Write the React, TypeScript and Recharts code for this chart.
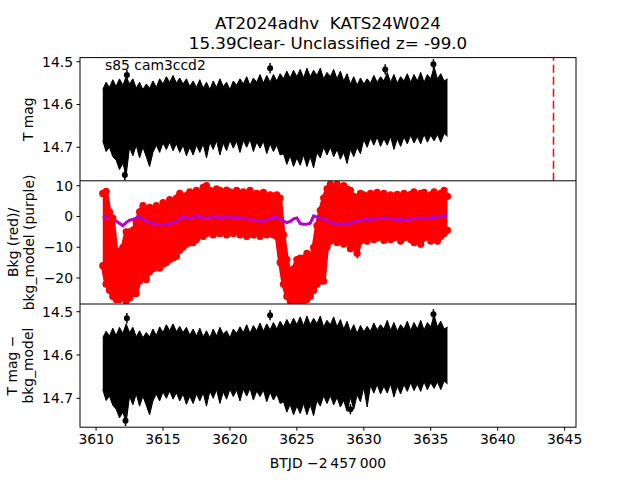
import React from 'react';
import { ComposedChart, Area, Line, Scatter, XAxis, YAxis, ReferenceLine } from 'recharts';

// sample grid (BTJD - 2457000), one column of the light curve every 0.25 d
const times = [
  3610.5, 3610.75, 3611, 3611.25, 3611.5, 3611.75, 3612, 3612.25, 3612.5, 3612.75,
  3613, 3613.25, 3613.5, 3613.75, 3614, 3614.25, 3614.5, 3614.75, 3615, 3615.25,
  3615.5, 3615.75, 3616, 3616.25, 3616.5, 3616.75, 3617, 3617.25, 3617.5, 3617.75,
  3618, 3618.25, 3618.5, 3618.75, 3619, 3619.25, 3619.5, 3619.75, 3620, 3620.25,
  3620.5, 3620.75, 3621, 3621.25, 3621.5, 3621.75, 3622, 3622.25, 3622.5, 3622.75,
  3623, 3623.25, 3623.5, 3623.75, 3624, 3624.25, 3624.5, 3624.75, 3625, 3625.25,
  3625.5, 3625.75, 3626, 3626.25, 3626.5, 3626.75, 3627, 3627.25, 3627.5, 3627.75,
  3628, 3628.25, 3628.5, 3628.75, 3629, 3629.25, 3629.5, 3629.75, 3630, 3630.25,
  3630.5, 3630.75, 3631, 3631.25, 3631.5, 3631.75, 3632, 3632.25, 3632.5, 3632.75,
  3633, 3633.25, 3633.5, 3633.75, 3634, 3634.25, 3634.5, 3634.75, 3635, 3635.25,
  3635.5, 3635.75, 3636, 3636.25,
];

// T mag: bright edge / faint edge of the error-bar band
const topHi = [
  14.565, 14.548, 14.560, 14.542, 14.558, 14.540, 14.555, 14.535, 14.552, 14.540,
  14.562, 14.548, 14.565, 14.552, 14.562, 14.545, 14.560, 14.540, 14.552, 14.535,
  14.548, 14.532, 14.550, 14.538, 14.552, 14.540, 14.558, 14.545, 14.560, 14.542,
  14.562, 14.548, 14.565, 14.545, 14.560, 14.540, 14.558, 14.548, 14.565, 14.545,
  14.555, 14.540, 14.552, 14.535, 14.555, 14.538, 14.548, 14.530, 14.550, 14.532,
  14.548, 14.530, 14.545, 14.528, 14.540, 14.522, 14.538, 14.520, 14.535, 14.518,
  14.538, 14.515, 14.535, 14.520, 14.532, 14.515, 14.540, 14.525, 14.535, 14.518,
  14.540, 14.522, 14.545, 14.528, 14.552, 14.535, 14.555, 14.538, 14.552, 14.540,
  14.550, 14.532, 14.548, 14.535, 14.545, 14.525, 14.548, 14.530, 14.550, 14.535,
  14.545, 14.528, 14.548, 14.530, 14.545, 14.525, 14.548, 14.530, 14.540, 14.512,
  14.540, 14.528, 14.545, 14.540,
];
const topLo = [
  14.685, 14.710, 14.700, 14.722, 14.730, 14.752, 14.738, 14.765, 14.700, 14.720,
  14.695, 14.725, 14.700, 14.722, 14.745, 14.712, 14.695, 14.712, 14.690, 14.705,
  14.688, 14.708, 14.692, 14.712, 14.695, 14.720, 14.700, 14.718, 14.695, 14.712,
  14.692, 14.725, 14.688, 14.705, 14.685, 14.718, 14.690, 14.708, 14.684, 14.702,
  14.686, 14.712, 14.684, 14.700, 14.682, 14.710, 14.688, 14.702, 14.686, 14.715,
  14.692, 14.710, 14.695, 14.718, 14.715, 14.740, 14.720, 14.745, 14.725, 14.742,
  14.718, 14.745, 14.722, 14.748, 14.712, 14.725, 14.700, 14.718, 14.700, 14.722,
  14.705, 14.728, 14.712, 14.738, 14.705, 14.722, 14.700, 14.715, 14.682, 14.700,
  14.678, 14.695, 14.676, 14.698, 14.680, 14.695, 14.675, 14.705, 14.680, 14.698,
  14.676, 14.692, 14.672, 14.690, 14.675, 14.692, 14.670, 14.688, 14.672, 14.685,
  14.670, 14.688, 14.668, 14.675,
];

// background (red points): upper / lower edge of the cloud
const bkgHi = [
  7.5, 8.2, 1.5, -0.5, -11, -11.5, -10, -5, -5, -4.5,
  -2, 1.5, 3.5, 2.5, 3, 2, 3.5, 2.5, 4.5, 3.5,
  5.5, 4.8, 6, 7.5, 6.5, 6.8, 8, 7.5, 8.5, 7.5,
  9.5, 10, 8.5, 8.2, 9, 8.5, 7.5, 8.6, 8, 7,
  8.5, 7.5, 8, 7.2, 8.5, 7, 7.5, 6.8, 7.8, 6.5,
  7, 6.5, 7, 6, -6, -14, -19, -17, -14, -13.5,
  -13.5, -12, -14, -10, -3, 2, 6, 9, 10.5, 9.5,
  10.5, 9, 10, 9, 8.5, 6.5, 6, 7.5, 7, 6.5,
  7.5, 6.5, 7.8, 6.8, 7.5, 6.5, 7, 6.5, 7.2, 6.5,
  7.5, 6.8, 7.2, 8, 6.8, 7.5, 7.8, 6.5, 7, 8,
  6.5, 7.5, 8.5, 6.5,
];
const bkgLo = [
  -16, -22, -24, -26, -27, -27, -26, -27.5, -26.5, -25,
  -25, -21, -19.5, -20.5, -18, -17, -16.5, -16.8, -15.5, -15,
  -14, -13.5, -13, -11, -10, -9, -8.5, -8.5, -7.5, -6,
  -6.5, -5.5, -5, -6, -5, -5.5, -4.5, -6, -5, -5.5,
  -4.5, -6, -5, -6.5, -5.5, -6, -5, -6.5, -5.5, -6,
  -5.5, -6, -6.5, -15, -22, -26, -27.5, -27.5, -27.5, -27.5,
  -27.5, -27, -26, -24, -22, -21, -21, -10, -8, -7.5,
  -8.5, -7, -9, -8, -10.5, -9.5, -12, -8, -7.5, -8,
  -6.5, -7.5, -7, -6.5, -7.8, -6.5, -7.5, -7, -6.5, -8,
  -7, -6.5, -7.5, -8.5, -7, -9, -7, -6.5, -8, -7,
  -8, -6.5, -5.5, -4.5,
];
// bkg_model (purple)
const bkgModel = [
  0, -0.3, -0.8, -1.2, -1.5, -2.2, -3, -2, -1.2, -1,
  -0.5, -0.3, -0.8, -1.5, -2, -2.3, -2.5, -2.6, -2.7, -2.6,
  -2.4, -2, -1.6, -0.8, 0, -0.4, -0.8, -0.3, 0.3, -0.2,
  -0.5, -0.6, -0.3, 0, -0.2, -0.5, -0.3, 0, -0.2, -0.5,
  -0.4, -0.6, -0.5, -0.7, -0.8, -1.2, -1.4, -1.6, -1.5, -1,
  -0.5, -0.3, -0.4, -0.8, -1.5, -2, -1.6, -0.8, -0.5, -2.3,
  -2.5, -2.5, -2.2, 0.2, -0.2, -0.6, -0.8, -1.2, -1.8, -2.3,
  -2.5, -2.6, -2.4, -2.5, -2.2, -1.8, -1.5, -1.3, -1.1, -1,
  -0.8, -0.9, -0.7, -0.6, -0.5, -0.5, -0.7, -0.9, -1, -1.1,
  -1, -1.2, -0.9, -0.7, -0.5, -0.6, -0.5, -0.7, -0.4, -0.3,
  -0.2, 0, 0.2, 0.3,
];

// T mag - bkg_model band
const botHi = [
  14.560, 14.545, 14.556, 14.538, 14.555, 14.536, 14.550, 14.528, 14.548, 14.536,
  14.558, 14.544, 14.560, 14.548, 14.558, 14.540, 14.555, 14.535, 14.548, 14.530,
  14.544, 14.528, 14.546, 14.534, 14.548, 14.536, 14.554, 14.540, 14.556, 14.538,
  14.558, 14.544, 14.560, 14.540, 14.556, 14.536, 14.552, 14.544, 14.560, 14.540,
  14.550, 14.535, 14.548, 14.530, 14.550, 14.532, 14.544, 14.526, 14.545, 14.528,
  14.542, 14.525, 14.540, 14.522, 14.535, 14.518, 14.532, 14.515, 14.530, 14.512,
  14.532, 14.510, 14.530, 14.515, 14.528, 14.510, 14.535, 14.520, 14.530, 14.512,
  14.535, 14.518, 14.540, 14.522, 14.546, 14.530, 14.550, 14.532, 14.546, 14.534,
  14.545, 14.526, 14.542, 14.530, 14.540, 14.520, 14.543, 14.525, 14.545, 14.530,
  14.540, 14.522, 14.543, 14.525, 14.540, 14.520, 14.542, 14.525, 14.535, 14.508,
  14.535, 14.522, 14.540, 14.535,
];
const botLo = [
  14.680, 14.705, 14.695, 14.716, 14.725, 14.745, 14.732, 14.755, 14.695, 14.715,
  14.690, 14.718, 14.695, 14.716, 14.738, 14.706, 14.690, 14.706, 14.685, 14.700,
  14.683, 14.702, 14.687, 14.706, 14.690, 14.714, 14.695, 14.712, 14.690, 14.706,
  14.687, 14.718, 14.683, 14.700, 14.680, 14.712, 14.685, 14.702, 14.679, 14.696,
  14.681, 14.706, 14.679, 14.695, 14.677, 14.704, 14.683, 14.696, 14.681, 14.708,
  14.686, 14.704, 14.690, 14.712, 14.708, 14.732, 14.714, 14.738, 14.718, 14.735,
  14.712, 14.738, 14.715, 14.740, 14.705, 14.718, 14.694, 14.712, 14.694, 14.715,
  14.698, 14.720, 14.705, 14.730, 14.698, 14.725, 14.692, 14.708, 14.675, 14.720,
  14.670, 14.688, 14.668, 14.690, 14.672, 14.688, 14.667, 14.697, 14.672, 14.690,
  14.668, 14.684, 14.664, 14.682, 14.667, 14.684, 14.662, 14.680, 14.664, 14.677,
  14.662, 14.680, 14.660, 14.667,
];

// isolated points sticking out of the band (with error bars)
const topPtT = [3612.3, 3623.0, 3631.6, 3635.2, 3612.15];
const topPtM = [14.531, 14.515, 14.518, 14.506, 14.765];
const botPtT = [3612.3, 3623.0, 3635.2, 3612.2, 3629.0];
const botPtM = [14.515, 14.508, 14.506, 14.752, 14.725];
const ptErr = 0.012;

const discoveryT = 3644.17;
const xTicks = [3610, 3615, 3620, 3625, 3630, 3635, 3640, 3645];

const rows = times.map((t, i) => ({
  t,
  top: [topLo[i], topHi[i]],
  bkg: [bkgLo[i], bkgHi[i]],
  model: bkgModel[i],
  bot: [botLo[i], botHi[i]],
}));
const bkgDots = times.flatMap((t, i) => [{ t, v: bkgHi[i] }, { t, v: bkgLo[i] }]);
const topPts = topPtT.map((t, i) => ({ t, m: topPtM[i] }));
const botPts = botPtT.map((t, i) => ({ t, m: botPtM[i] }));

const FONT = 'DejaVu Sans, sans-serif';
const tickStyle = { fill: '#000', fontSize: 13.9, fontFamily: FONT };
const X_DOMAIN = [3608.8, 3645.85];
const PANEL_H = 123.2;
const TOPS = [57.6, 180.8, 304];

const minus = (v: number) => (v < 0 ? '\u2212' + Math.abs(v) : String(v));

const blackDot = (p: any) => <circle cx={p.cx} cy={p.cy} r={3} fill="#000" />;
const redDot = (p: any) => <circle cx={p.cx} cy={p.cy} r={3.6} fill="#ff0000" />;

const layer: React.CSSProperties = { position: 'absolute', left: 0, top: 0 };

function panelMargin(i: number, xAxisH: number) {
  return { top: TOPS[i], right: 64, left: 0, bottom: 480 - TOPS[i] - PANEL_H - xAxisH };
}

// error bars of the isolated points, drawn as reference segments
const errBars = (pts: { t: number; m: number }[]) =>
  pts.map((p, i) => (
    <ReferenceLine key={i} segment={[{ x: p.t, y: p.m - ptErr }, { x: p.t, y: p.m + ptErr }]}
      stroke="#000" strokeWidth={1.5} />
  ));

export default function App() {
  return (
    <div style={{ position: 'absolute', left: 0, top: 0, width: 640, height: 480, background: '#fff', fontFamily: FONT }}>
      {/* top: T mag */}
      <div style={layer}>
        <ComposedChart width={640} height={480} data={rows} margin={panelMargin(0, 0)}>
          <XAxis dataKey="t" type="number" domain={X_DOMAIN} allowDataOverflow hide />
          <YAxis type="number" width={80} domain={[14.4904, 14.7783]} reversed allowDataOverflow
            ticks={[14.5, 14.6, 14.7]} tickFormatter={(v) => v.toFixed(1)}
            tick={tickStyle} tickSize={3.5} tickMargin={3.5} axisLine={false} tickLine={{ stroke: '#000' }} />
          <Area dataKey="top" type="linear" stroke="#000" strokeWidth={1} fill="#000" fillOpacity={1}
            dot={false} activeDot={false} isAnimationActive={false} />
          {errBars(topPts)}
          <Scatter data={topPts} dataKey="m" shape={blackDot} isAnimationActive={false} />
          <ReferenceLine x={discoveryT} stroke="#ff0000" strokeWidth={1.5} strokeDasharray="8 4" />
        </ComposedChart>
      </div>

      {/* middle: background */}
      <div style={layer}>
        <ComposedChart width={640} height={480} data={rows} margin={panelMargin(1, 0)}>
          <XAxis dataKey="t" type="number" domain={X_DOMAIN} allowDataOverflow hide />
          <YAxis type="number" width={80} domain={[-28.45, 11.59]} allowDataOverflow
            ticks={[10, 0, -10, -20]} tickFormatter={minus}
            tick={tickStyle} tickSize={3.5} tickMargin={3.5} axisLine={false} tickLine={{ stroke: '#000' }} />
          <Area dataKey="bkg" type="linear" stroke="#ff0000" strokeWidth={4} fill="#ff0000" fillOpacity={1}
            dot={false} activeDot={false} isAnimationActive={false} />
          <Scatter data={bkgDots} dataKey="v" shape={redDot} isAnimationActive={false} />
          <Line dataKey="model" type="linear" stroke="#b800c8" strokeWidth={3} dot={false}
            activeDot={false} isAnimationActive={false} />
        </ComposedChart>
      </div>

      {/* bottom: T mag - bkg_model */}
      <div style={layer}>
        <ComposedChart width={640} height={480} data={rows} margin={panelMargin(2, 30)}>
          <XAxis dataKey="t" type="number" domain={X_DOMAIN} allowDataOverflow ticks={xTicks} height={30}
            tick={tickStyle} tickSize={3.5} tickMargin={3.5} axisLine={false} tickLine={{ stroke: '#000' }} />
          <YAxis type="number" width={80} domain={[14.4822, 14.7667]} reversed allowDataOverflow
            ticks={[14.5, 14.6, 14.7]} tickFormatter={(v) => v.toFixed(1)}
            tick={tickStyle} tickSize={3.5} tickMargin={3.5} axisLine={false} tickLine={{ stroke: '#000' }} />
          <Area dataKey="bot" type="linear" stroke="#000" strokeWidth={1} fill="#000" fillOpacity={1}
            dot={false} activeDot={false} isAnimationActive={false} />
          {errBars(botPts)}
          <Scatter data={botPts} dataKey="m" shape={blackDot} isAnimationActive={false} />
        </ComposedChart>
      </div>

      {/* frames and labels */}
      <svg width={640} height={480} style={{ ...layer, pointerEvents: 'none' }} fontFamily={FONT}>
        <rect x={80} y={57.6} width={496} height={369.6} fill="none" stroke="#000" strokeWidth={1} />
        <line x1={80} x2={576} y1={180.8} y2={180.8} stroke="#000" strokeWidth={1} />
        <line x1={80} x2={576} y1={304} y2={304} stroke="#000" strokeWidth={1} />

        <text x={328} y={29.3} fontSize={16.7} textAnchor="middle" style={{ whiteSpace: 'pre' }}>AT2024adhv  KATS24W024</text>
        <text x={328} y={49.3} fontSize={16.7} textAnchor="middle">15.39Clear- Unclassified z= -99.0</text>
        <text x={105} y={69.5} fontSize={13.9}>s85 cam3ccd2</text>

        <text transform="translate(33,119.2) rotate(-90)" fontSize={13.9} textAnchor="middle">T mag</text>
        <text transform="translate(17.5,242.4) rotate(-90)" fontSize={13.9} textAnchor="middle">Bkg (red)/</text>
        <text transform="translate(33.5,242.4) rotate(-90)" fontSize={13.9} textAnchor="middle">bkg_model (purple)</text>
        <text transform="translate(17,365.6) rotate(-90)" fontSize={13.9} textAnchor="middle">T mag {'\u2212'}</text>
        <text transform="translate(33,365.6) rotate(-90)" fontSize={13.9} textAnchor="middle">bkg_model</text>

        <text x={328} y={468} fontSize={13.9} textAnchor="middle">BTJD {'\u2212'}2{'\u2009'}457{'\u2009'}000</text>
      </svg>
    </div>
  );
}
